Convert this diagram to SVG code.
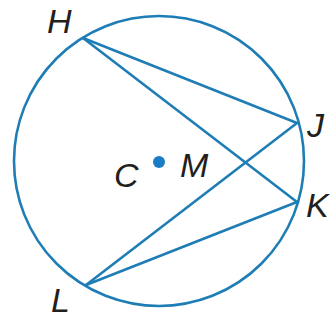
<svg xmlns="http://www.w3.org/2000/svg" width="336" height="320" viewBox="0 0 336 320">
<style>
.ln{fill:none;stroke:#1f7db5;stroke-width:2.6;stroke-linecap:round}
.lb{font-family:"Liberation Sans",Arial,sans-serif;font-style:italic;font-size:34px;fill:#231f20}
</style>
<rect width="336" height="320" fill="#ffffff"/>
<g id="circle">
<circle class="ln" cx="159" cy="161" r="145"/>
</g>
<g id="connectors">
<line class="ln" x1="83" y1="38" x2="297" y2="123"/>
<line class="ln" x1="83" y1="38" x2="297" y2="202"/>
<line class="ln" x1="86" y1="285" x2="297" y2="123"/>
<line class="ln" x1="86" y1="285" x2="297" y2="202"/>
</g>
<g id="node-C">
<circle cx="159" cy="162" r="6" fill="#1a7cc4"/>
<text class="lb" x="114" y="187">C</text>
</g>
<g id="node-H"><text class="lb" x="47" y="33">H</text></g>
<g id="node-J"><text class="lb" x="307" y="137">J</text></g>
<g id="node-K"><text class="lb" x="306" y="217">K</text></g>
<g id="node-L"><text class="lb" x="51" y="312">L</text></g>
<g id="node-M"><text class="lb" x="180" y="177">M</text></g>
</svg>
